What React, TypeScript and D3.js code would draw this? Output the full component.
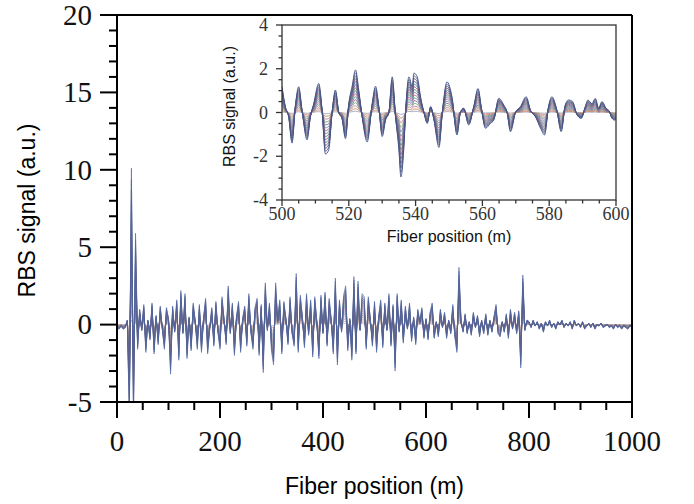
import React from "react";
import * as d3 from "d3";

// main trace, one sample every 4 m from 0 to 1000 m (largest-amplitude shot)
const mainStep = 4;
const mainSignal = [
  -0.2, -0.3, -0.1, -0.3, -0.2, 0.3, -6, 10.1, -6, 5.9,
  -1.6, 1.0, -0.4, 1.3, -1.8, 0.3, -1.0, 1.4, -1.9, 0.6,
  -1.3, 1.2, -0.3, -1.6, 1.1, 0.4, -3.2, 1.2, -0.5, 1.6,
  -2.3, 2.2, -0.6, 2.0, -2.2, 0.5, -1.7, 1.4, 0.2, -1.6,
  1.3, -1.8, 0.4, 1.7, -1.9, -0.3, 1.1, -1.4, 1.5, -0.5,
  -1.6, 1.8, 0.3, -1.3, 2.5, -0.6, 1.4, -2.0, 0.5, 1.5,
  -1.8, 0.4, 1.2, -1.4, 2.0, -0.5, -1.6, 1.1, 1.7, -2.0,
  1.3, -3.1, 2.7, -0.4, 1.4, -1.7, -2.6, 2.7, 0.3, 1.6,
  -1.9, 1.5, 0.4, -1.3, 1.8, -0.6, -1.4, 3.3, -1.8, 1.9,
  0.5, -1.5, 2.0, -0.7, 1.6, -2.1, 1.8, 0.2, -2.2, 1.9,
  -0.6, 2.1, -1.4, 1.7, 0.3, -1.9, 3.0, -2.6, 1.6, -0.5,
  1.9, 2.5, -1.7, 0.4, -2.3, 3.1, -1.9, 2.8, -0.4, 2.0,
  1.8, -1.6, 1.8, 0.3, -1.4, 1.5, -1.8, 0.5, 1.6, -1.5,
  1.4, -0.4, 2.0, -1.4, 1.3, -3.0, 2.0, -0.5, 1.6, -1.2,
  1.2, -0.3, 1.4, -1.1, 0.5, -1.3, 1.0, 0.2, 1.1, -0.9,
  0.4, -1.0, 0.8, 1.4, -0.9, 0.2, -0.8, 1.0, -0.2, 0.8,
  -0.9, 0.3, -0.6, 1.3, -0.8, -1.8, 3.7, 0.2, -0.5, 0.7,
  -0.6, 0.2, -0.7, 0.8, -0.2, 0.6, -0.8, 0.3, -0.6, 0.7,
  -0.7, 0.3, -0.5, 0.5, 1.3, -0.6, -0.8, 0.2, -0.5, 0.7,
  -0.9, 1.0, -0.3, 0.8, -0.6, 0.9, -2.8, 3.2, -0.4, 0.3,
  0.2, -0.2, 0.3, -0.1, 0.2, -0.3, 0.1, -0.5, 0.2, -0.1,
  0.3, -0.2, 0.1, -0.3, 0.2, 0.0, 0.3, -0.2, 0.1, -0.1,
  0.2, -0.3, 0.3, -0.1, 0.1, -0.2, 0.2, -0.3, -0.1, 0.1,
  -0.2, 0.1, -0.3, 0.0, -0.1, 0.1, -0.2, -0.1, 0.0, -0.2,
  -0.1, -0.3, 0.0, -0.2, -0.1, -0.3, -0.1, -0.2, -0.3, -0.1,
  -0.2,
];

// zoomed section 500-600 m (largest-amplitude shot)
const insetPos = [
  500, 501, 502, 503, 504, 505, 506, 507.5, 508.5, 509.5,
  511, 512, 513, 514, 515, 516, 517, 518, 519, 520,
  521, 522, 523, 524, 525.5, 527, 528, 529, 530, 531,
  532, 533, 534, 535, 535.6, 536.5, 537, 538, 539, 539.5,
  540.5, 541.5, 542.5, 543.5, 544.5, 545.5, 547, 548, 549.4, 550.9,
  552.4, 553.4, 554.4, 555.9, 557.4, 558.7, 559.7, 560.9, 562.4, 563.4,
  564.9, 566.4, 567.4, 568.4, 569.9, 571.4, 573.1, 574.4, 575.9, 577.4,
  578.6, 579.8, 580.8, 582.3, 583.6, 584.8, 585.8, 587, 588.3, 589.6,
  590.8, 591.6, 592.8, 593.8, 594.8, 595.8, 597, 598, 598.8, 599.6, 600,
];
const insetVal = [
  1.2, 0.27, -0.2, -1.4, 0.3, 1.18, 0.1, -1.25, -0.2, 0.4,
  1.33, 0.1, -1.9, -1.7, 0, 1.03, 0, -0.3, -1.2, 0.4,
  1.2, 1.95, 1.0, -0.2, -1.35, 0.4, 1.2, 0.25, -1.1, -0.35,
  0, 1.63, -0.2, -1.7, -2.95, -1.55, 0, 1.63, 1.18, 1.8,
  1.63, 0.7, 0, -0.5, 0.27, -0.35, -1.6, 0, 1.4, 0.7,
  -1.03, 0, 0.2, -0.57, 0.27, 1.1, 0.2, -0.72, -0.5, -0.35,
  0.65, 0.34, 0, -0.88, 0, 0.27, 0.72, 0.1, -0.2, -0.72,
  -1.03, 0.27, 0.72, 0.1, -0.88, 0.34, 0.57, 0.5, -0.1, -0.27,
  0.27, 0.57, 0.4, 0.65, 0.2, 0.5, 0.2, 0.05, -0.27, -0.35, -0.3,
];

// relative amplitude of each overlaid shot and its colour
const traceGains = [1.0, 0.93, 0.86, 0.79, 0.72, 0.65, 0.58, 0.51, 0.44, 0.37, 0.3, 0.23, 0.16, 0.09, 0.03];
const traceColors = [
  "#414f80", "#5b6e9e", "#555a66", "#7a4b8c", "#3f7f8f", "#b04a86", "#4f8f5f", "#6a7ab8",
  "#c0608a", "#5aa0a0", "#8a6aa8", "#79a86a", "#d07a9a", "#c89060", "#a0a8c8",
];

const mainXTicks = [0, 200, 400, 600, 800, 1000];
const mainYTicks = [-5, 0, 5, 10, 15, 20];
const insetXTicks = [500, 520, 540, 560, 580, 600];
const insetYTicks = [-4, -2, 0, 2, 4];

export default function App() {
  const W = 694, H = 504;
  const m = { left: 117, right: 632, top: 15, bottom: 402 };
  const x = d3.scaleLinear().domain([0, 1000]).range([m.left, m.right]);
  const y = d3.scaleLinear().domain([-5, 20]).range([m.bottom, m.top]);

  const ins = { left: 282, right: 616, top: 25, bottom: 200 };
  const xi = d3.scaleLinear().domain([500, 600]).range([ins.left, ins.right]);
  const yi = d3.scaleLinear().domain([-4, 4]).range([ins.bottom, ins.top]);

  const mainLine = d3.line<number>()
    .x((_, i) => x(i * mainStep))
    .y((v) => y(v));
  const insetLine = d3.line<number>()
    .x((_, i) => xi(insetPos[i]))
    .y((v) => yi(v))
    .curve(d3.curveMonotoneX);

  // draw small shots first, big one on top
  const order = traceGains.map((_, i) => i).reverse();

  const mainMinorY = d3.range(-5, 21, 1).filter((v) => v % 5 !== 0);
  const mainMinorX = d3.range(0, 1001, 50).filter((v) => v % 200 !== 0);
  const insMinorY = d3.range(-4, 4.01, 0.5).filter((v) => v % 2 !== 0);
  const insMinorX = d3.range(500, 601, 5).filter((v) => v % 20 !== 0);

  const serif = "'Liberation Serif', 'Times New Roman', serif";
  const sans = "'Liberation Sans', Arial, sans-serif";

  return (
    <svg width={W} height={H} style={{ position: "absolute", left: 0, top: 0, background: "#fff" }}>
      <defs>
        <clipPath id="mainClip">
          <rect x={m.left} y={m.top} width={m.right - m.left} height={m.bottom - m.top} />
        </clipPath>
        <clipPath id="insClip">
          <rect x={ins.left} y={ins.top} width={ins.right - ins.left} height={ins.bottom - ins.top} />
        </clipPath>
      </defs>

      {/* main traces */}
      <g clipPath="url(#mainClip)">
        {order.map((k) => (
          <path key={k} d={mainLine(mainSignal.map((v) => v * traceGains[k])) || ""}
            fill="none" stroke={k === 0 ? "#4c63a3" : traceColors[k]} strokeWidth={0.7} strokeOpacity={0.9} />
        ))}
      </g>

      {/* main frame and axes */}
      <g stroke="#000" strokeWidth={2} fill="none">
        <line x1={m.left} y1={m.top} x2={m.right} y2={m.top} />
        <line x1={m.right} y1={m.top} x2={m.right} y2={m.bottom} />
        <line x1={m.left} y1={m.top} x2={m.left} y2={m.bottom} />
        <line x1={m.left} y1={m.bottom} x2={m.right} y2={m.bottom} />
        {mainYTicks.map((t) => <line key={"y" + t} x1={m.left - 17} x2={m.left} y1={y(t)} y2={y(t)} />)}
        {mainMinorY.map((t) => <line key={"ym" + t} x1={m.left - 8} x2={m.left} y1={y(t)} y2={y(t)} />)}
        {mainXTicks.map((t) => <line key={"x" + t} x1={x(t)} x2={x(t)} y1={m.bottom} y2={m.bottom + 16} />)}
        {mainMinorX.map((t) => <line key={"xm" + t} x1={x(t)} x2={x(t)} y1={m.bottom} y2={m.bottom + 8} />)}
      </g>
      <g fontFamily={serif} fontSize={29} fill="#111">
        {mainYTicks.map((t) => (
          <text key={t} x={92} y={y(t)} dy="0.34em" textAnchor="end">{t}</text>
        ))}
        {mainXTicks.map((t) => (
          <text key={t} x={x(t)} y={451} textAnchor="middle">{t}</text>
        ))}
      </g>
      <g fontFamily={sans} fontSize={23} fill="#000">
        <text x={(m.left + m.right) / 2} y={494} textAnchor="middle">Fiber position (m)</text>
        <text transform={`translate(35,${(m.top + m.bottom) / 2 + 2}) rotate(-90)`} textAnchor="middle">RBS signal (a.u.)</text>
      </g>

      {/* inset */}
      <g clipPath="url(#insClip)">
        {order.map((k) => (
          <path key={k} d={insetLine(insetVal.map((v) => v * traceGains[k])) || ""}
            fill="none" stroke={traceColors[k]} strokeWidth={0.9} />
        ))}
      </g>
      <g stroke="#333" strokeWidth={1.3} fill="none">
        <rect x={ins.left} y={ins.top} width={ins.right - ins.left} height={ins.bottom - ins.top} />
        {insetYTicks.map((t) => <line key={"y" + t} x1={ins.left - 6} x2={ins.left} y1={yi(t)} y2={yi(t)} />)}
        {insMinorY.map((t) => <line key={"ym" + t} x1={ins.left - 3.5} x2={ins.left} y1={yi(t)} y2={yi(t)} />)}
        {insetXTicks.map((t) => <line key={"x" + t} x1={xi(t)} x2={xi(t)} y1={ins.bottom} y2={ins.bottom + 6} />)}
        {insMinorX.map((t) => <line key={"xm" + t} x1={xi(t)} x2={xi(t)} y1={ins.bottom} y2={ins.bottom + 3.5} />)}
      </g>
      <g fontFamily={serif} fontSize={18} fill="#333">
        {insetYTicks.map((t) => (
          <text key={t} x={ins.left - 14} y={yi(t)} dy="0.34em" textAnchor="end">{t}</text>
        ))}
        {insetXTicks.map((t) => (
          <text key={t} x={xi(t)} y={220} textAnchor="middle">{t}</text>
        ))}
      </g>
      <g fontFamily={sans} fontSize={16} fill="#111">
        <text x={(ins.left + ins.right) / 2} y={242} textAnchor="middle">Fiber position (m)</text>
        <text transform={`translate(235,${(ins.top + ins.bottom) / 2 - 6}) rotate(-90)`} textAnchor="middle">RBS signal (a.u.)</text>
      </g>
    </svg>
  );
}
